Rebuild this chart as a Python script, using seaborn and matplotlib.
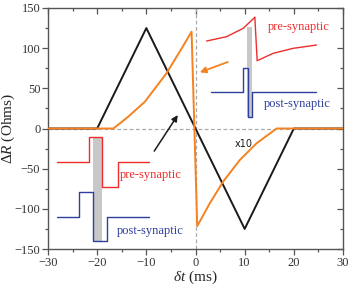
import numpy as np
import pandas as pd
import matplotlib
matplotlib.use('Agg')
import matplotlib.pyplot as plt
import seaborn as sns

# main curves
tri_t = [-30, -20, -10, 10, 20, 30]
tri_r = [0, 0, 125, -125, 0, 0]

exp_t = [-30, -16.7, -13.7, -10.3, -5.9, -2.8, -0.8, 0.35, 2.9, 5.6, 9.0, 12.4, 16.5, 30]
exp_r = [0, 0, 14.6, 33.3, 68.7, 99.8, 120.5, -121.5, -93.2, -66.3, -39.3, -18.5, 0, 0]

# lower-left inset: pulse shapes
pre1_t = [-28.1, -21.6, -21.6, -19.1, -19.1, -15.8, -15.8, -9.4]
pre1_r = [-41.8, -41.8, -11, -11, -72.5, -72.5, -41.8, -41.8]
post1_t = [-28.1, -23.7, -23.7, -20.8, -20.8, -17.9, -17.9, -9.4]
post1_r = [-110.3, -110.3, -79.5, -79.5, -140, -140, -110.3, -110.3]
bar1 = (-20.8, -19.1, -140, -11)

# upper-right inset
pre2_t = [2.26, 6.32, 9.7, 12.07, 12.54, 15.8, 19.86, 24.6]
pre2_r = [108.9, 114.3, 124.7, 138.4, 84.4, 93.6, 99.8, 103.9]
post2_t = [3.13, 9.7, 9.7, 10.7, 10.7, 11.5, 11.5, 24.6]
post2_r = [45.4, 45.4, 74.9, 74.9, 14.6, 14.6, 45.4, 45.4]
bar2 = (10.5, 11.4, 14.6, 126.7)

black = '#1a1a1a'
orange = '#f58220'
red = '#ee2d2d'
blue = '#2e3f9e'
grey_bar = '#c8c8c8'

sns.set_style('ticks')
plt.rcParams['font.family'] = ['Liberation Serif', 'DejaVu Serif']
plt.rcParams['mathtext.fontset'] = 'custom'
plt.rcParams['mathtext.rm'] = 'Liberation Serif'
plt.rcParams['mathtext.it'] = 'Liberation Serif:italic'

fig = plt.figure(figsize=(3.54, 2.90), dpi=100)
ax = fig.add_axes([48/354, 1-249/290, 295/354, 241/290])

ax.axhline(0, color='#aaaaaa', lw=0.9, ls=(0, (3, 2)), zorder=1)
ax.axvline(0, color='#aaaaaa', lw=0.9, ls=(0, (3, 2)), zorder=1)

# inset grey bars
for x0, x1, y0, y1 in [bar1, bar2]:
    ax.fill_between([x0, x1], y0, y1, color=grey_bar, lw=0, zorder=2)

tri = pd.DataFrame({'t': tri_t, 'r': tri_r})
exp = pd.DataFrame({'t': exp_t, 'r': exp_r})
sns.lineplot(data=tri, x='t', y='r', color=black, lw=1.4, estimator=None, sort=False, ax=ax, zorder=4)
sns.lineplot(data=exp, x='t', y='r', color=orange, lw=1.4, estimator=None, sort=False, ax=ax, zorder=5)

ax.plot(pre1_t, pre1_r, color=red, lw=1.0, zorder=3)
ax.plot(post1_t, post1_r, color=blue, lw=1.0, zorder=3)
ax.plot(pre2_t[:4], pre2_r[:4], color=red, lw=1.0, zorder=3)
ax.plot(pre2_t[3:], pre2_r[3:], color=red, lw=1.0, zorder=3)
ax.plot(post2_t, post2_r, color=blue, lw=1.0, zorder=3)

ax.text(-15.4, -58, 'pre-synaptic', color=red, fontsize=9, va='center')
ax.text(-16.0, -127.7, 'post-synaptic', color=blue, fontsize=9, va='center')
ax.text(14.7, 126.7, 'pre-synaptic', color=red, fontsize=9, va='center')
ax.text(13.9, 30.5, 'post-synaptic', color=blue, fontsize=9, va='center')
ax.text(8.0, -19.4, 'x10', color=black, fontsize=7, va='center', family='DejaVu Sans')

ax.annotate('', xy=(0.35, 68.7), xytext=(7.1, 84),
            arrowprops=dict(arrowstyle='-|>', color=orange, lw=1.3, mutation_scale=9))
ax.annotate('', xy=(-3.3, 19.6), xytext=(-8.7, -31),
            arrowprops=dict(arrowstyle='-|>', color=black, lw=1.1, mutation_scale=9))

ax.set_xlim(-30, 30)
ax.set_ylim(-150, 150)
ax.set_xticks(np.arange(-30, 31, 10))
ax.set_xticks(np.arange(-25, 30, 10), minor=True)
ax.set_yticks(np.arange(-150, 151, 50))
ax.set_yticks(np.arange(-125, 150, 50), minor=True)
ax.set_xlabel(r'$\delta t$ (ms)', fontsize=11, labelpad=0)
ax.set_ylabel(r'$\mathit{\Delta R}$ (Ohms)', fontsize=11)
ax.yaxis.set_label_coords(-0.105, 0.5)

spine_c = '#555555'
for s in ax.spines.values():
    s.set_color(spine_c)
    s.set_linewidth(1.0)
ax.tick_params(which='major', direction='out', length=4, width=0.9, color=spine_c,
               labelsize=9, labelcolor='#333333', pad=1.5)
ax.tick_params(which='minor', direction='out', length=2.5, width=0.9, color=spine_c)

# mirrored ticks pointing inward on top and right
top = ax.secondary_xaxis('top')
top.set_xticks(np.arange(-30, 31, 10))
top.set_xticks(np.arange(-25, 30, 10), minor=True)
top.tick_params(which='both', direction='in', labeltop=False, color=spine_c, width=0.9)
top.tick_params(which='major', length=4)
top.tick_params(which='minor', length=2.5)
top.spines['top'].set_visible(False)
right = ax.secondary_yaxis('right')
right.set_yticks(np.arange(-150, 151, 50))
right.set_yticks(np.arange(-125, 150, 50), minor=True)
right.tick_params(which='both', direction='in', labelright=False, color=spine_c, width=0.9)
right.tick_params(which='major', length=4)
right.tick_params(which='minor', length=2.5)
right.spines['right'].set_visible(False)

fig.savefig('out.png', dpi=100)
